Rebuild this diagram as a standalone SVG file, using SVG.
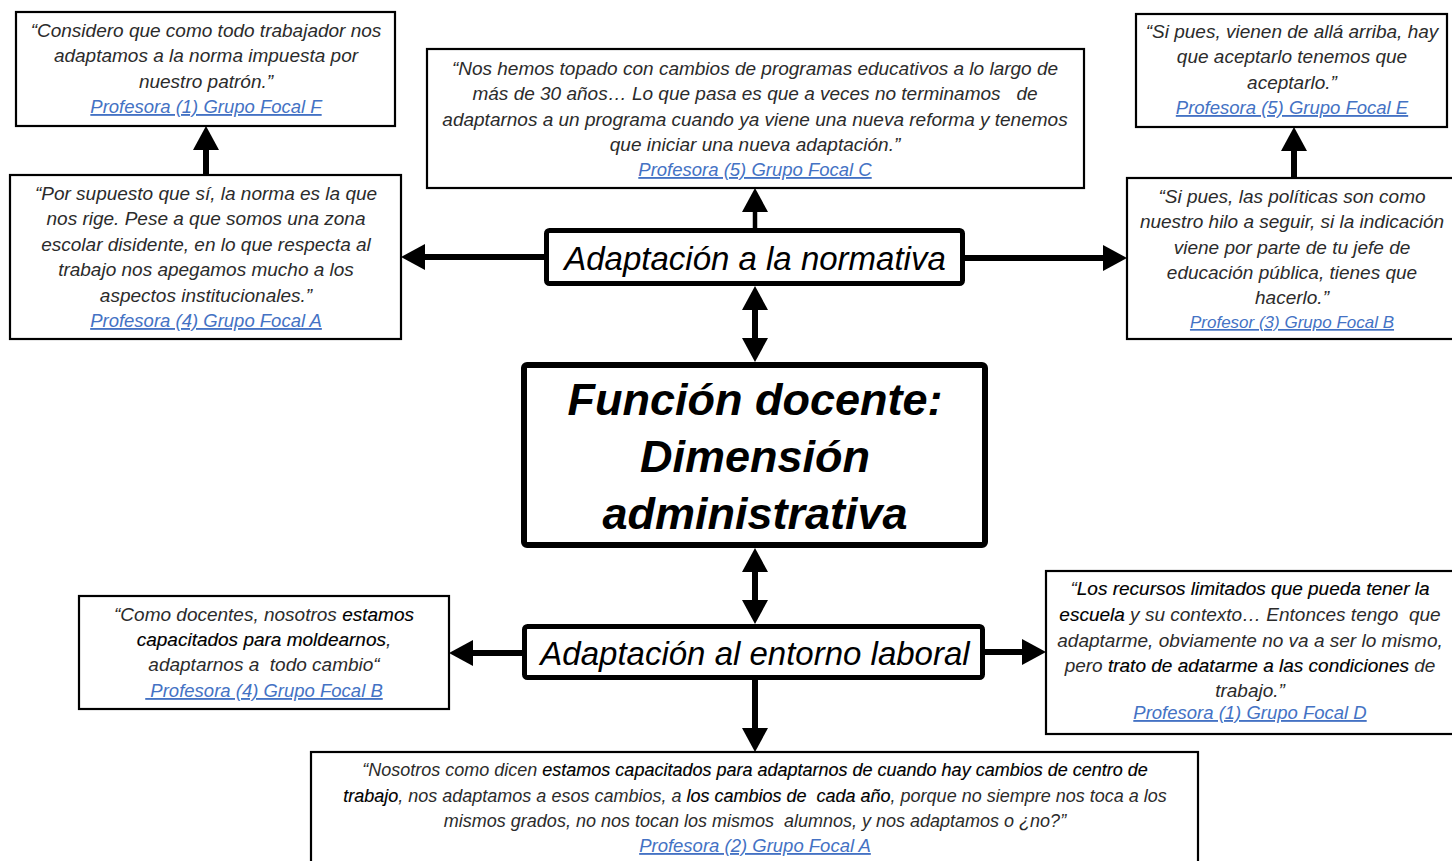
<svg xmlns="http://www.w3.org/2000/svg" width="1452" height="861" viewBox="0 0 1452 861">
  <style>
    .bg { fill: #ffffff; }
    .quote { fill: #ffffff; stroke: #000000; stroke-width: 2.2; }
    .node { fill: #ffffff; stroke: #000000; stroke-width: 5; }
    .core { fill: #ffffff; stroke: #000000; stroke-width: 6; }
    .txt { font-family: "Liberation Sans", Arial, sans-serif; font-style: italic; font-size: 19px; fill: #2b2b2b; text-anchor: middle; }
    .em { fill: #000000; stroke: #000000; stroke-width: 0.15; }
    .link { font-family: "Liberation Sans", Arial, sans-serif; font-style: italic; font-size: 18.5px; fill: #4472c4; text-anchor: middle; text-decoration: underline; }
    .label { font-family: "Liberation Sans", Arial, sans-serif; font-style: italic; font-size: 33px; fill: #000000; text-anchor: middle; }
    .title { font-family: "Liberation Sans", Arial, sans-serif; font-style: italic; font-weight: bold; font-size: 45px; fill: #000000; text-anchor: middle; }
    .shaft { stroke: #000000; stroke-width: 6; fill: none; }
    .shaft-thin { stroke: #000000; stroke-width: 4.5; fill: none; }
  </style>
  <defs>
    <marker id="head" markerUnits="userSpaceOnUse" markerWidth="24" markerHeight="26" refX="12" refY="13" orient="auto-start-reverse">
      <path d="M0,0 L24,13 L0,26 z" fill="#000000"/>
    </marker>
  </defs>

  <rect class="bg" x="0" y="0" width="1452" height="861"/>

  <!-- connectors -->
  <g id="connectors">
    <!-- normativa to side quotes -->
    <line class="shaft" x1="544" y1="257" x2="413" y2="257" marker-end="url(#head)"/>
    <line class="shaft" x1="965" y1="258" x2="1115" y2="258" marker-end="url(#head)"/>
    <!-- normativa up to quote C -->
    <line class="shaft-thin" x1="755" y1="228" x2="755" y2="200" marker-end="url(#head)"/>
    <!-- normativa <-> core -->
    <line class="shaft" x1="755" y1="298" x2="755" y2="350" marker-start="url(#head)" marker-end="url(#head)"/>
    <!-- core <-> entorno -->
    <line class="shaft" x1="755" y1="560" x2="755" y2="612" marker-start="url(#head)" marker-end="url(#head)"/>
    <!-- entorno to quotes -->
    <line class="shaft" x1="522" y1="653" x2="461" y2="653" marker-end="url(#head)"/>
    <line class="shaft" x1="985" y1="652" x2="1034" y2="652" marker-end="url(#head)"/>
    <line class="shaft" x1="755" y1="680" x2="755" y2="740" marker-end="url(#head)"/>
    <!-- stacked quotes -->
    <line class="shaft" x1="206" y1="175" x2="206" y2="138" marker-end="url(#head)"/>
    <line class="shaft" x1="1294" y1="178" x2="1294" y2="139" marker-end="url(#head)"/>
  </g>

  <!-- quote: Profesora (1) Grupo Focal F -->
  <g id="quote-f1">
    <rect class="quote" x="16" y="12" width="379" height="114"/>
    <text class="txt" x="206" y="37">“Considero que como todo trabajador nos</text>
    <text class="txt" x="206" y="62">adaptamos a la norma impuesta por</text>
    <text class="txt" x="206" y="88">nuestro patrón.”</text>
    <text class="link" x="206" y="113">Profesora (1) Grupo Focal F</text>
  </g>

  <!-- quote: Profesora (4) Grupo Focal A -->
  <g id="quote-a4">
    <rect class="quote" x="10" y="175" width="391" height="164"/>
    <text class="txt" x="206" y="200">“Por supuesto que sí, la norma es la que</text>
    <text class="txt" x="206" y="225">nos rige. Pese a que somos una zona</text>
    <text class="txt" x="206" y="251">escolar disidente, en lo que respecta al</text>
    <text class="txt" x="206" y="276">trabajo nos apegamos mucho a los</text>
    <text class="txt" x="206" y="302">aspectos institucionales.”</text>
    <text class="link" x="206" y="327">Profesora (4) Grupo Focal A</text>
  </g>

  <!-- quote: Profesora (5) Grupo Focal C -->
  <g id="quote-c5">
    <rect class="quote" x="427" y="49" width="657" height="139"/>
    <text class="txt" x="755" y="75">“Nos hemos topado con cambios de programas educativos a lo largo de</text>
    <text class="txt" x="755" y="100" xml:space="preserve">más de 30 años… Lo que pasa es que a veces no terminamos   de</text>
    <text class="txt" x="755" y="126">adaptarnos a un programa cuando ya viene una nueva reforma y tenemos</text>
    <text class="txt" x="755" y="151">que iniciar una nueva adaptación.”</text>
    <text class="link" x="755" y="176">Profesora (5) Grupo Focal C</text>
  </g>

  <!-- quote: Profesora (5) Grupo Focal E -->
  <g id="quote-e5">
    <rect class="quote" x="1136" y="14" width="311" height="113"/>
    <text class="txt" x="1292" y="38">“Si pues, vienen de allá arriba, hay</text>
    <text class="txt" x="1292" y="63">que aceptarlo tenemos que</text>
    <text class="txt" x="1292" y="89">aceptarlo.”</text>
    <text class="link" x="1292" y="114">Profesora (5) Grupo Focal E</text>
  </g>

  <!-- quote: Profesor (3) Grupo Focal B -->
  <g id="quote-b3">
    <rect class="quote" x="1127" y="178" width="340" height="161"/>
    <text class="txt" x="1292" y="203">“Si pues, las políticas son como</text>
    <text class="txt" x="1292" y="228">nuestro hilo a seguir, si la indicación</text>
    <text class="txt" x="1292" y="254">viene por parte de tu jefe de</text>
    <text class="txt" x="1292" y="279">educación pública, tienes que</text>
    <text class="txt" x="1292" y="304">hacerlo.”</text>
    <text class="link" x="1292" y="328" style="font-size:17px">Profesor (3) Grupo Focal B</text>
  </g>

  <!-- node: Adaptación a la normativa -->
  <g id="node-normativa">
    <rect class="node" x="546.5" y="230.5" width="416" height="53" rx="3"/>
    <text class="label" x="755" y="270">Adaptación a la normativa</text>
  </g>

  <!-- core node -->
  <g id="node-funcion">
    <rect class="core" x="524" y="365" width="461" height="180" rx="3"/>
    <text class="title" x="755" y="415">Función docente:</text>
    <text class="title" x="755" y="472">Dimensión</text>
    <text class="title" x="755" y="529">administrativa</text>
  </g>

  <!-- node: Adaptación al entorno laboral -->
  <g id="node-entorno">
    <rect class="node" x="524.5" y="626.5" width="458" height="51" rx="3"/>
    <text class="label" x="755" y="665">Adaptación al entorno laboral</text>
  </g>

  <!-- quote: Profesora (4) Grupo Focal B -->
  <g id="quote-b4">
    <rect class="quote" x="79" y="596" width="370" height="113"/>
    <text class="txt" x="264" y="621">“Como docentes, nosotros <tspan class="em">estamos</tspan></text>
    <text class="txt" x="264" y="646"><tspan class="em">capacitados para moldearnos</tspan>,</text>
    <text class="txt" x="264" y="671" xml:space="preserve">adaptarnos a  todo cambio“</text>
    <text class="link" x="264" y="697" xml:space="preserve"> Profesora (4) Grupo Focal B</text>
  </g>

  <!-- quote: Profesora (1) Grupo Focal D -->
  <g id="quote-d1">
    <rect class="quote" x="1046" y="571" width="420" height="163"/>
    <text class="txt" x="1250" y="595">“<tspan class="em">Los recursos limitados que pueda tener la</tspan></text>
    <text class="txt" x="1250" y="621" xml:space="preserve"><tspan class="em">escuela</tspan> y su contexto… Entonces tengo  que</text>
    <text class="txt" x="1250" y="647">adaptarme, obviamente no va a ser lo mismo,</text>
    <text class="txt" x="1250" y="672">pero <tspan class="em">trato de adatarme a las condiciones</tspan> de</text>
    <text class="txt" x="1250" y="697">trabajo.”</text>
    <text class="link" x="1250" y="719">Profesora (1) Grupo Focal D</text>
  </g>

  <!-- quote: Profesora (2) Grupo Focal A -->
  <g id="quote-a2">
    <rect class="quote" x="311" y="752" width="887" height="130"/>
    <text class="txt" x="755" y="776" style="font-size:18px">“Nosotros como dicen <tspan class="em">estamos capacitados para adaptarnos de cuando hay cambios de centro de</tspan></text>
    <text class="txt" x="755" y="802" style="font-size:18px" xml:space="preserve"><tspan class="em">trabajo</tspan>, nos adaptamos a esos cambios, a <tspan class="em">los cambios de  cada año</tspan>, porque no siempre nos toca a los</text>
    <text class="txt" x="755" y="827" style="font-size:18px" xml:space="preserve">mismos grados, no nos tocan los mismos  alumnos, y nos adaptamos o ¿no?”</text>
    <text class="link" x="755" y="852">Profesora (2) Grupo Focal A</text>
  </g>
</svg>
